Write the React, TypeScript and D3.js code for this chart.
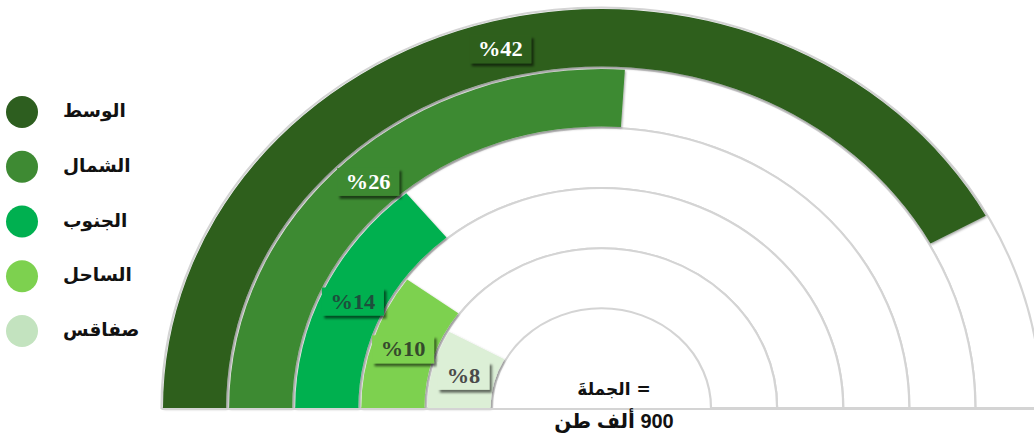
import React, { useEffect, useRef } from 'react';
import * as d3 from 'd3';

const regions = ['الوسط', 'الشمال', 'الجنوب', 'الساحل', 'صفاقس'];
const shares = [42, 26, 14, 10, 8];
const colors = ['#2d5e1f', '#3e8a33', '#00b050', '#7dd14f', '#dcefd6'];
const legendColors = ['#2d5e1f', '#3e8a33', '#00b050', '#7dd14f', '#c3e3bf'];
const labelColors = ['#ffffff', '#ffffff', '#1d4f3c', '#35492c', '#4a4a4a'];
const scaleMax = 50;
const totalLines = ['= الجملةَ', '900 ألف طن'];

const W = 1034;
const H = 438;

const App: React.FC = () => {
 const svgRef = useRef<SVGSVGElement>(null);

 useEffect(() => {
 if (!svgRef.current) return;
 const svg = d3.select(svgRef.current);
 svg.selectAll('*').remove();

 const cx = 601.5;
 const cy = 408;
 const squash = 0.91; // the picture is a bit wider than tall

 const defs = svg.append('defs');
 const sh = defs.append('filter').attr('id', 'barShadow').attr('x', '-10%').attr('y', '-10%').attr('width', '120%').attr('height', '120%');
 sh.append('feDropShadow').attr('dx', 1).attr('dy', 1.5).attr('stdDeviation', 1).attr('flood-color', '#000').attr('flood-opacity', 0.35);
 const lsh = defs.append('filter').attr('id', 'labelShadow').attr('x', '-20%').attr('y', '-30%').attr('width', '150%').attr('height', '170%');
 lsh.append('feDropShadow').attr('dx', 2.5).attr('dy', 3).attr('stdDeviation', 1.2).attr('flood-color', '#000').attr('flood-opacity', 0.55);

 const ring = d3.scaleBand<string>().domain(regions).range([440, 109.5]).paddingInner(0);
 const angle = d3.scaleLinear().domain([0, scaleMax]).range([-Math.PI / 2, Math.PI / 2]);

 const g = svg.append('g').attr('transform', `translate(${cx},${cy}) scale(1,${squash})`);

 // background tracks
 const track = d3.arc<string>()
 .innerRadius((d) => ring(d)!)
 .outerRadius((d) => ring(d)! + ring.bandwidth())
 .startAngle(-Math.PI / 2)
 .endAngle(Math.PI / 2);

 g.selectAll('path.track')
 .data(regions)
 .enter()
 .append('path')
 .attr('class', 'track')
 .attr('d', (d) => track(d))
 .attr('fill', '#ffffff')
 .attr('stroke', '#d4d4d4')
 .attr('stroke-width', 2.2);

 // bars
 const bar = d3.arc<number>()
 .innerRadius((_, i) => ring(regions[i])! + 1.5)
 .outerRadius((_, i) => ring(regions[i])! + ring.bandwidth() - 1.5)
 .startAngle(angle(0))
 .endAngle((d) => angle(d));

 g.selectAll('path.bar')
 .data(shares)
 .enter()
 .append('path')
 .attr('class', 'bar')
 .attr('d', (d, i) => bar(d, i))
 .attr('fill', (_, i) => colors[i])
 .attr('filter', 'url(#barShadow)');

 // baseline
 svg.append('line')
 .attr('x1', cx - 440).attr('x2', cx + 440)
 .attr('y1', cy + 1).attr('y2', cy + 1)
 .attr('stroke', '#d4d4d4').attr('stroke-width', 2.2);

 // value labels at the bar centroids
 shares.forEach((v, i) => {
 const r = ring(regions[i])! + ring.bandwidth() / 2;
 const a = (angle(0) + angle(v)) / 2;
 const x = cx + r * Math.sin(a);
 const y = cy - r * Math.cos(a) * squash;
 const txt = `%${v}`;
 const bw = txt.length > 2 ? 62 : 52;
 const bh = 28;
 const lg = svg.append('g').attr('transform', `translate(${x},${y})`);
 lg.append('rect')
 .attr('x', -bw / 2).attr('y', -bh / 2)
 .attr('width', bw).attr('height', bh)
 .attr('fill', colors[i])
 .attr('filter', 'url(#labelShadow)');
 lg.append('text')
 .attr('text-anchor', 'middle')
 .attr('direction', 'ltr')
 .attr('transform', 'scale(1.12,1)')
 .attr('y', 7)
 .attr('font-family', '"Liberation Serif", "DejaVu Serif", serif')
 .attr('font-weight', 'bold')
 .attr('font-size', 20)
 .attr('fill', labelColors[i])
 .text(txt);
 });

 // centre total
 svg.append('text')
 .attr('x', 614).attr('y', 395)
 .attr('text-anchor', 'middle')
 .attr('direction', 'rtl')
 .attr('font-family', '"DejaVu Sans", sans-serif')
 .attr('font-weight', 'bold')
 .attr('font-size', 17)
 .attr('fill', '#111')
 .text(totalLines[0]);
 svg.append('text')
 .attr('x', 614).attr('y', 428)
 .attr('text-anchor', 'middle')
 .attr('direction', 'rtl')
 .attr('font-family', '"Liberation Sans", "DejaVu Sans", sans-serif')
 .attr('font-weight', 'bold')
 .attr('font-size', 20)
 .attr('fill', '#111')
 .text(totalLines[1]);

 // legend
 const ly = d3.scalePoint<string>().domain(regions).range([112, 331]);
 const leg = svg.append('g');
 leg.selectAll('circle')
 .data(regions)
 .enter()
 .append('circle')
 .attr('cx', 22)
 .attr('cy', (d) => ly(d)!)
 .attr('r', 16)
 .attr('fill', (_, i) => legendColors[i]);
 leg.selectAll('text')
 .data(regions)
 .enter()
 .append('text')
 .attr('x', 63)
 .attr('y', (d) => ly(d)! + 5)
 .attr('font-family', '"DejaVu Sans", sans-serif')
 .attr('font-weight', 'bold')
 .attr('font-size', 18.5)
 .attr('fill', '#111')
 .text((d) => d);
 }, []);

 return (
 <svg
 ref={svgRef}
 width={W}
 height={H}
 viewBox={`0 0 ${W} ${H}`}
 style={{ position: 'absolute', left: 0, top: 0, background: '#fff' }}
 />
 );
};

export default App;
